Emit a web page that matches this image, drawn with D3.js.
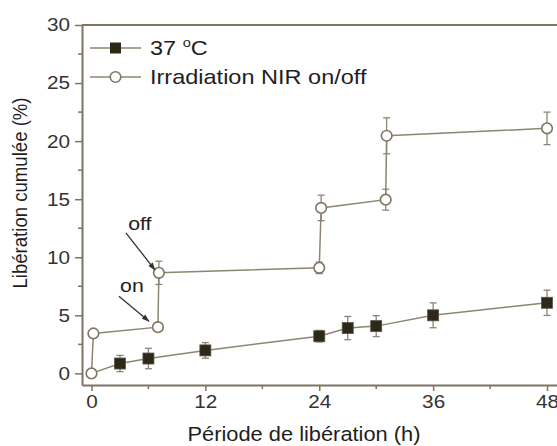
<!DOCTYPE html>
<html><head><meta charset="utf-8">
<script src="https://cdn.jsdelivr.net/npm/d3@7"></script>
<style>body{margin:0;background:#fff}svg{display:block}
.st{transform-box:fill-box;transform-origin:center;transform:scaleX(1.12)}
.sr{transform-box:fill-box;transform-origin:right center;transform:scaleX(1.12)}
.sl{transform-box:fill-box;transform-origin:left center;transform:scaleX(1.12)}
</style>
</head><body>
<svg id="c" width="557" height="446"></svg>
<script>
const seriesNames = ["37 °C", "Irradiation NIR on/off"];
const timeA = [0, 3, 6, 12, 24, 27, 30, 36, 48];
const valA  = [0, 0.85, 1.28, 1.98, 3.2, 3.9, 4.07, 5.0, 6.08];
const errA  = [0.15, 0.7, 0.88, 0.67, 0.5, 1.0, 0.9, 1.07, 1.09];
const timeB = [0, 0.2, 7, 7.1, 24, 24.2, 31, 31.1, 48];
const valB  = [0, 3.44, 3.98, 8.66, 9.09, 14.25, 14.96, 20.46, 21.1];
const errB  = [0.2, 0.1, 0.3, 1.0, 0.5, 1.1, 0.9, 1.55, 1.4];
const xTicks = [0, 12, 24, 36, 48];
const xMinor = [6, 18, 30, 42];
const yTicks = [0, 5, 10, 15, 20, 25, 30];
const yMinor = [2.5, 7.5, 12.5, 17.5, 22.5, 27.5];
const annotations = [{text:"off", t:7.1, v:8.66}, {text:"on", t:7, v:3.98}];

const FONT = "Liberation Sans, Arial, sans-serif";
const svg = d3.select("#c");
const x = d3.scaleLinear().domain([-1, 50]).range([82, 566]);
const y = d3.scaleLinear().domain([-1, 30]).range([385, 25]);
const axisCol = "#7d7563", lineCol = "#8c8672", textCol = "#1e1e1e";

// axes
const gx = svg.append("g").attr("transform","translate(0,385)")
  .call(d3.axisBottom(x).tickValues(xTicks).tickSize(6).tickSizeOuter(0).tickPadding(4));
gx.append("g").selectAll("line").data(xMinor).join("line")
  .attr("x1",d=>x(d)).attr("x2",d=>x(d)).attr("y1",0).attr("y2",4);
const gy = svg.append("g").attr("transform","translate(82,0)")
  .call(d3.axisLeft(y).tickValues(yTicks).tickSize(7).tickSizeOuter(0).tickPadding(5));
gy.append("g").selectAll("line").data(yMinor).join("line")
  .attr("x1",0).attr("x2",-4).attr("y1",d=>y(d)).attr("y2",d=>y(d));
[gx, gy].forEach((g,i)=>{
  g.select(".domain").attr("stroke",axisCol).attr("stroke-width",2);
  g.selectAll("line").attr("stroke",axisCol).attr("stroke-width",1.5);
  g.selectAll("text").attr("fill","#333").attr("class", i===0 ? "st" : "sr")
    .style("font-family",FONT).style("font-size","18.5px");
});
svg.append("line").attr("x1",82).attr("x2",566).attr("y1",y(30)).attr("y2",y(30))
  .attr("stroke",axisCol).attr("stroke-width",2);

// titles
svg.append("text").attr("x",304).attr("y",441).attr("text-anchor","middle").attr("class","st")
  .style("font-family",FONT).style("font-size","19.5px").attr("fill",textCol)
  .text("Période de libération (h)");
svg.append("text").attr("transform","translate(27,193) rotate(-90) scale(1,1.12)").attr("text-anchor","middle")
  .style("font-family",FONT).style("font-size","18.6px").attr("fill",textCol)
  .text("Libération cumulée (%)");

function drawSeries(ts, vs, es) {
  const pts = ts.map((t,i)=>({t, v:vs[i], e:es[i]}));
  svg.append("path").datum(pts).attr("fill","none").attr("stroke",lineCol).attr("stroke-width",1.5)
    .attr("d", d3.line().x(d=>x(d.t)).y(d=>y(d.v)));
  const eb = svg.append("g").attr("stroke",lineCol).attr("stroke-width",1.3);
  pts.forEach(d=>{
    eb.append("line").attr("x1",x(d.t)).attr("x2",x(d.t)).attr("y1",y(d.v-d.e)).attr("y2",y(d.v+d.e));
    [d.v-d.e, d.v+d.e].forEach(v=>eb.append("line").attr("x1",x(d.t)-3.5).attr("x2",x(d.t)+3.5).attr("y1",y(v)).attr("y2",y(v)));
  });
  return pts;
}
const ptsA = drawSeries(timeA, valA, errA);
const ptsB = drawSeries(timeB, valB, errB);
// square at t=0 is hidden under the open circle in the original
svg.append("g").selectAll("rect").data(ptsA.filter(d=>d.t>0)).join("rect")
  .attr("x",d=>x(d.t)-5.5).attr("y",d=>y(d.v)-5.5).attr("width",11).attr("height",11)
  .attr("fill","#2e2819").attr("stroke","#5a5444").attr("stroke-width",0.8);
svg.append("g").selectAll("circle").data(ptsB).join("circle")
  .attr("cx",d=>x(d.t)).attr("cy",d=>y(d.v)).attr("r",5.3)
  .attr("fill","#fff").attr("stroke","#7d7763").attr("stroke-width",1.6);

// legend
const leg = svg.append("g");
[48, 77].forEach((ly,i)=>{
  leg.append("line").attr("x1",90).attr("x2",141).attr("y1",ly).attr("y2",ly).attr("stroke",lineCol).attr("stroke-width",1.5);
  if(i===0) leg.append("rect").attr("x",110).attr("y",ly-5.5).attr("width",11).attr("height",11).attr("fill","#2e2819");
  else leg.append("circle").attr("cx",115.5).attr("cy",ly).attr("r",5.3).attr("fill","#fff").attr("stroke","#7d7763").attr("stroke-width",1.6);
  const t = leg.append("text").attr("x",150).attr("y",ly+7.5).attr("class","sl")
    .style("font-family",FONT).style("font-size","21px").attr("fill",textCol);
  if (i===0) {
    const parts = seriesNames[0].split("°");
    t.append("tspan").text(parts[0]);
    t.append("tspan").attr("dy",-8).style("font-size","13px").text("o");
    t.append("tspan").attr("dy",8).text(parts[1]);
  } else t.text(seriesNames[i]);
});

// annotations
svg.append("defs").append("marker").attr("id","ah").attr("viewBox","0 0 10 10").attr("refX",9).attr("refY",5)
  .attr("markerWidth",7).attr("markerHeight",6).attr("orient","auto")
  .append("path").attr("d","M0,1.5 L10,5 L0,8.5 z").attr("fill","#333");
const offs = [{tx:-19, ty:-43, ax:-33, ay:-40, hx:-4, hy:-3}, {tx:-26, ty:-35, ax:-39, ay:-31, hx:-9, hy:-6}];
annotations.forEach((a,i)=>{
  const px = x(a.t), py = y(a.v), o = offs[i];
  svg.append("text").attr("x",px+o.tx).attr("y",py+o.ty).attr("text-anchor","middle").attr("class","st")
    .style("font-family",FONT).style("font-size","19px").attr("fill",textCol).text(a.text);
  svg.append("line").attr("x1",px+o.ax).attr("y1",py+o.ay).attr("x2",px+o.hx).attr("y2",py+o.hy)
    .attr("stroke","#333").attr("stroke-width",1.3).attr("marker-end","url(#ah)");
});
</script>
</body></html>
